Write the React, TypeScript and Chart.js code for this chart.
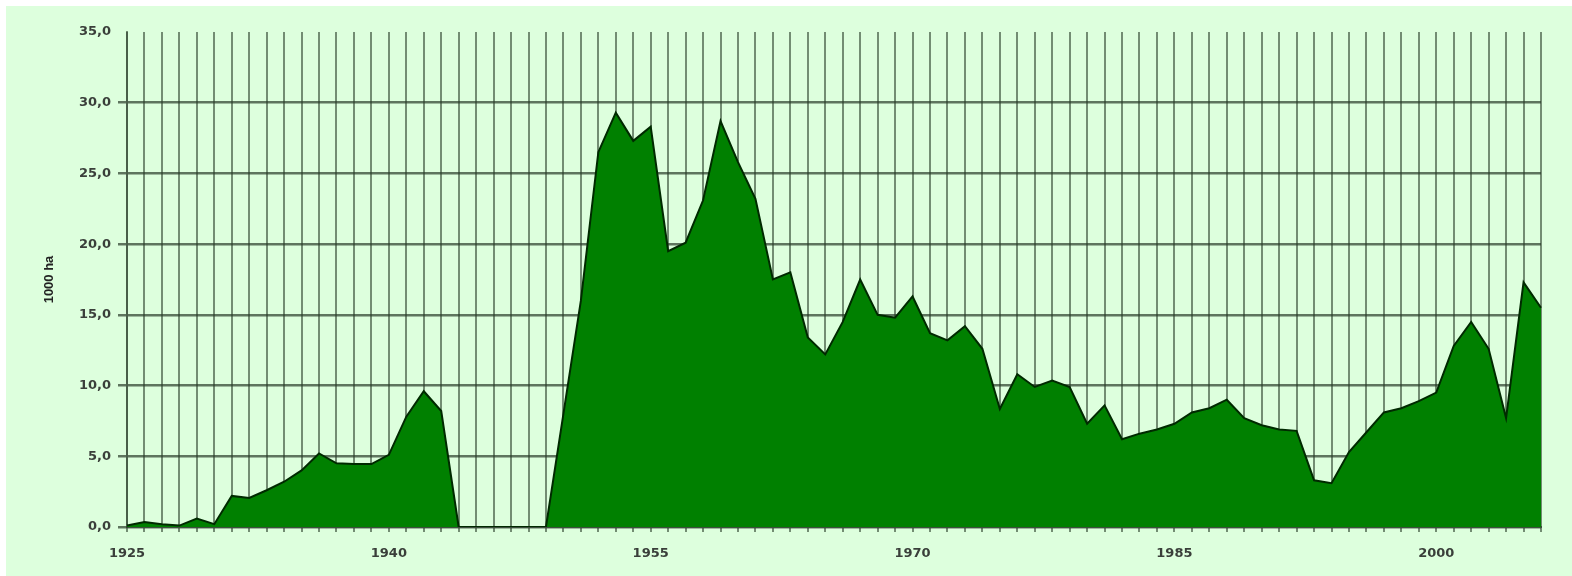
import React, { useEffect, useRef } from 'react';
import { Chart, registerables } from 'chart.js';

Chart.register(...registerables);

const years = [
  '1925', '1926', '1927', '1928', '1929', '1930', '1931', '1932', '1933', '1934',
  '1935', '1936', '1937', '1938', '1939', '1940', '1941', '1942', '1943', '1944',
  '1945', '1946', '1947', '1948', '1949', '1950', '1951', '1952', '1953', '1954',
  '1955', '1956', '1957', '1958', '1959', '1960', '1961', '1962', '1963', '1964',
  '1965', '1966', '1967', '1968', '1969', '1970', '1971', '1972', '1973', '1974',
  '1975', '1976', '1977', '1978', '1979', '1980', '1981', '1982', '1983', '1984',
  '1985', '1986', '1987', '1988', '1989', '1990', '1991', '1992', '1993', '1994',
  '1995', '1996', '1997', '1998', '1999', '2000', '2001', '2002', '2003', '2004',
  '2005', '2006',
];

const areaValues = [
  0.1, 0.35, 0.2, 0.1, 0.6, 0.2, 2.2, 2.05, 2.6, 3.2,
  4.0, 5.2, 4.5, 4.45, 4.45, 5.1, 7.8, 9.6, 8.2, 0,
  0, 0, 0, 0, 0, 8.0, 16.0, 26.5, 29.3, 27.3,
  28.3, 19.5, 20.1, 23.1, 28.7, 25.8, 23.2, 17.5, 18.0, 13.4,
  12.2, 14.5, 17.5, 15.0, 14.8, 16.3, 13.7, 13.2, 14.2, 12.6,
  8.35, 10.8, 9.9, 10.35, 9.9, 7.3, 8.6, 6.2, 6.6, 6.9,
  7.3, 8.1, 8.4, 9.0, 7.7, 7.2, 6.9, 6.8, 3.3, 3.1,
  5.3, 6.7, 8.1, 8.4, 8.9, 9.5, 12.8, 14.5, 12.6, 7.7,
  17.3, 15.5,
];

const xTickLabels = ['1925', '1940', '1955', '1970', '1985', '2000'];

const yAxisTitle = '1000 ha';

const bgPlugin = {
  id: 'bgPlugin',
  beforeDraw(chart: any) {
    const { ctx, width, height } = chart;
    ctx.save();
    ctx.fillStyle = '#DDFFDD';
    ctx.fillRect(6, 6, width - 6, height - 6);
    ctx.restore();
  },
};

export default function App() {
  const canvasRef = useRef<HTMLCanvasElement | null>(null);

  useEffect(() => {
    if (!canvasRef.current) return;
    const chart = new Chart(canvasRef.current, {
      type: 'line',
      data: {
        labels: years,
        datasets: [
          {
            data: areaValues,
            fill: 'origin',
            backgroundColor: '#008000',
            borderColor: '#002a00',
            borderWidth: 2,
            pointRadius: 0,
            tension: 0,
          },
        ],
      },
      options: {
        animation: false,
        responsive: true,
        maintainAspectRatio: false,
        layout: { padding: { left: 6, top: 32, right: 31, bottom: 0 } },
        plugins: {
          legend: { display: false },
          tooltip: { enabled: false },
        },
        scales: {
          x: {
            type: 'category',
            offset: false,
            afterFit: (s: any) => {
              s.height = 49;
            },
            grid: {
              color: 'rgba(45,65,45,0.6)',
              lineWidth: 2,
              drawTicks: true,
              tickLength: 5,
            },
            border: { display: true, color: '#3d4f3d', width: 2 },
            ticks: {
              autoSkip: false,
              maxRotation: 0,
              minRotation: 0,
              padding: 14,
              color: '#3a3f3a',
              font: { family: 'DejaVu Sans', size: 13, weight: 'bold' },
              callback: (_v: any, i: number) =>
                xTickLabels.includes(years[i]) ? years[i] : '',
            },
          },
          y: {
            min: 0,
            max: 35,
            afterFit: (s: any) => {
              s.width = 121;
            },
            grid: {
              color: (c: any) =>
                c.tick && c.tick.value === 35 ? 'rgba(0,0,0,0)' : 'rgba(40,58,40,0.7)',
              lineWidth: 2.5,
              drawTicks: true,
              tickLength: 9,
            },
            border: { display: true, color: 'rgba(45,65,45,0.6)', width: 2 },
            title: {
              display: true,
              text: yAxisTitle,
              color: '#222222',
              font: { family: 'Liberation Sans', size: 13, weight: 'bold' },
              padding: { top: 36, bottom: 0 },
            },
            ticks: {
              stepSize: 5,
              padding: 7,
              color: '#3a3f3a',
              font: { family: 'DejaVu Sans', size: 13, weight: 'bold' },
              callback: (v: any) => Number(v).toFixed(1).replace('.', ','),
            },
          },
        },
      },
      plugins: [bgPlugin],
    });
    return () => chart.destroy();
  }, []);

  return (
    <div style={{ position: 'absolute', left: 0, top: 0, width: 1572, height: 576 }}>
      <canvas ref={canvasRef} />
    </div>
  );
}
